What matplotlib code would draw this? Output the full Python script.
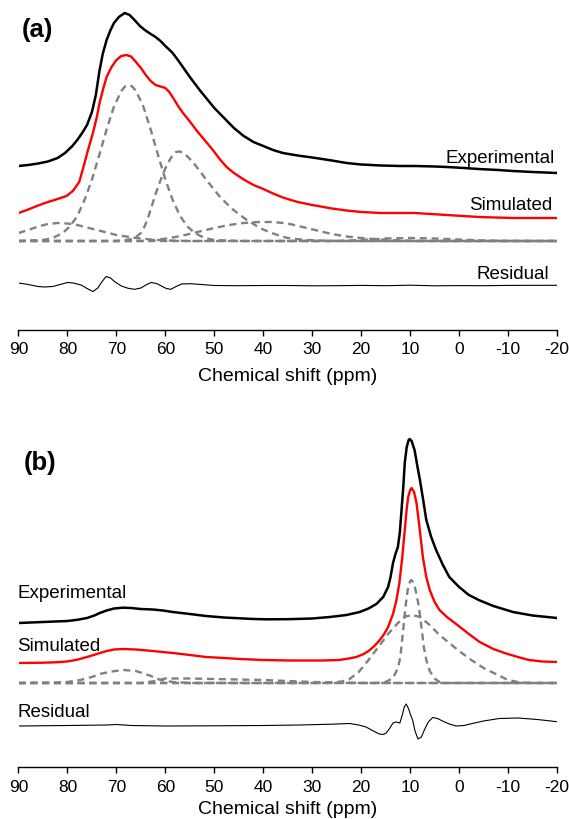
import matplotlib
matplotlib.use('Agg')
import matplotlib.pyplot as plt

plt.rcParams['font.family'] = ['Liberation Sans', 'DejaVu Sans']

# ---- panel (a) ----
a_exp_ppm = [90, 88, 86, 84, 82, 80.5, 79, 78, 77, 76, 75, 74.2, 73.5, 72.8, 72, 71.2, 70.5,
             69.5, 68.3, 67.3, 66.3, 65.2, 64.2, 63, 62, 61, 60, 58.5, 57, 55, 53, 51.5, 50,
             48, 46, 44, 42, 40, 38, 36, 33, 30, 26, 23, 20, 16, 12, 9, 5, 2.5, -1, -4, -8,
             -11, -15, -20]
a_exp = [164, 165, 166.5, 168.5, 172, 177, 184, 190, 197, 205, 218, 235, 258, 276, 290, 300,
         307, 313, 317, 315, 310, 304, 300, 296, 293, 289, 284, 277, 267, 253, 240, 231, 222,
         212, 202, 194, 188, 184, 180, 177, 174.5, 172.5, 169.5, 167, 165.5, 164.5, 164, 164,
         163.5, 163, 162, 161, 160, 159, 158, 157]

a_sim_ppm = [90, 88, 86, 84, 82, 80.2, 78.9, 77.6, 76.9, 75.8, 74.8, 74, 73.4, 72.6, 72, 71,
             70, 69, 68, 67, 66, 65, 64, 63, 62, 61, 60, 59.2, 58.4, 57.4, 56.4, 55, 53.7, 52,
             50.3, 49, 47.5, 46, 44, 42, 40, 38, 36, 33, 30, 26, 23, 20, 16, 9, 2.5, -4, -11,
             -20]
a_sim = [117, 120.5, 124.5, 128, 131, 134, 139, 148, 160, 180, 197, 213, 228, 243, 253, 263,
         270, 274, 275, 273.5, 268, 262, 255, 249, 245, 243.5, 242, 238, 232, 224, 217, 208.5,
         200, 190, 180, 171.5, 163, 157, 150.5, 145, 141, 136.5, 132.5, 128, 125, 121.5,
         119.5, 118, 117, 117, 115, 113, 112, 112]

a_c1_ppm = [90, 85, 83, 81, 79.5, 78, 76.5, 75, 73.5, 72, 70.5, 69, 68.25, 67.5, 66.75, 66,
            64.5, 63, 61.5, 60, 58.5, 57, 55.5, 54, 52, 50, 45, -20]
a_c1 = [89, 90, 92, 97, 103.5, 114, 130, 150.5, 175, 200.5, 223.5, 239, 243.5, 245, 243.5,
        239, 223.5, 200.5, 175, 150.5, 130, 114, 103.5, 97, 92, 90, 89, 89]

a_c2_ppm = [90, 70, 68, 67, 66, 65, 64.2, 63.5, 62.7, 62, 61.2, 60.5, 59.7, 59, 58.4, 57.8, 57,
            56, 55, 54, 52.8, 51.6, 50.3, 49, 47.5, 46.2, 45, 43.5, 42, 40.7, 39.3, 38, 36.5,
            35, 33, 31, 28, 25, -20]
a_c2 = [89, 89, 90, 91, 93, 97, 104, 113, 125, 136, 147, 156, 165, 171, 175.5, 178, 178.5,
        176, 171, 165.5, 158, 150, 142, 134, 126.5, 120.5, 116, 110.5, 106, 102, 99, 96.5, 94,
        92, 90.8, 90, 89.4, 89, 89]

a_c3_ppm = [90, 88, 86, 84, 82, 80, 78, 76, 74, 72, 70, 68, 66, 63, 60, 55, -20]
a_c3 = [97, 100, 103.5, 106, 107, 106.5, 105, 102.5, 100, 97.5, 95, 93.5, 92, 90.5, 89.5, 89, 89]

a_c4_ppm = [90, 65, 62, 59, 56, 53, 50, 47, 44, 41, 38, 35, 32, 29, 26, 23, 20, 16, 12, 8, -20]
a_c4 = [89, 89, 90, 92, 95, 98.5, 102, 105, 107, 108, 108, 106.5, 103, 99.5, 96, 93.5, 92,
        90.5, 89.5, 89, 89]

a_c5_ppm = [90, 25, 20, 15, 10, 5, 0, -5, -10, -20]
a_c5 = [89, 89, 90, 91.5, 92, 91.5, 90.5, 89.5, 89, 89]

a_res_ppm = [90, 88, 86, 84.7, 83, 81.5, 80, 78.8, 77.2, 76, 74.8, 73.8, 73, 72.1, 71.2, 70.4,
             69, 67.6, 66.3, 65, 63.8, 62.9, 61.8, 60.8, 59.8, 58.9, 57.8, 56.7, 55, 54, 50,
             45, 40, 35, 30, 25, 20, 15, 10, 5, 0, -5, -10, -20]
a_res = [47, 45.5, 43.5, 43, 43.5, 45.5, 47.5, 47, 45, 41.5, 38.5, 42, 48, 53.5, 52, 48.5,
         44, 41.7, 40.7, 42, 45.5, 47.5, 46.5, 44, 41.5, 40.7, 43.5, 46, 46.3, 46, 44.5,
         44.3, 44.5, 44.5, 44.2, 44.3, 44.6, 44.3, 44.8, 44.2, 44.4, 44.3, 44.6, 44.7]

# ---- panel (b) ----
b_exp_ppm = [90, 85, 80, 78, 76, 74.5, 73.4, 72, 70.5, 68.7, 67, 65, 62.6, 60.5, 58.5, 55,
             51.7, 48, 44.8, 42, 39.4, 35, 30, 26.4, 23, 20.3, 18.5, 16.9, 15.5, 14.5, 14,
             13.5, 13, 12.5, 12.1, 11.8, 11.4, 11.1, 10.7, 10.3, 10.1, 9.7, 9.3, 9.1, 8.6, 8,
             7.3, 6.7, 5.7, 4.7, 3.3, 2, 0, -2, -4, -7, -11, -15, -20]
b_exp = [144, 145, 146, 147.2, 149, 151.5, 154, 156.5, 158.5, 159.3, 159, 158, 157.5, 156.5,
         155, 153, 151, 149.5, 148.7, 148, 147.7, 147.8, 148.5, 150, 152, 155, 158.5, 163,
         170, 180, 190, 204, 213, 220, 235, 254, 280, 304, 320, 327, 328, 326, 320, 317,
         303, 287, 266, 247, 230, 217, 202, 190, 180, 172, 167, 161, 155, 151.5, 149]

b_sim_ppm = [90, 85, 82, 80, 78, 76, 74, 72, 70.5, 68.7, 66, 62.6, 58.5, 55, 51.7, 48, 44.8, 40,
             34.6, 28, 24.5, 22.5, 21, 19.5, 18.5, 17.3, 16.2, 15.3, 14.5, 13.5, 12.8, 12.2,
             11.6, 11.1, 10.7, 10.4, 10, 9.7, 9.2, 8.7, 8.1, 7.4, 6.7, 6, 5, 4, 2.5, 0.6, -2,
             -4.2, -7, -9.6, -12, -14.3, -17, -20]
b_sim = [104, 104.3, 104.8, 105.6, 107.3, 110, 113, 116, 117.5, 118, 117.5, 116, 114, 112, 110,
         109, 108, 107, 106.5, 106.5, 107, 108.5, 110, 113, 116, 121, 127, 133, 140, 153, 167,
         184, 210, 237, 258, 270, 277, 279, 275, 264, 240, 210, 190, 177, 165, 157, 150, 143,
         133, 125, 118, 113.5, 110, 107, 105.5, 105]

b_c1_ppm = [90, 82, 80, 77.4, 75, 73.4, 71, 68.5, 66, 63.2, 61, 58.5, 55, -20]
b_c1 = [84, 84.5, 85, 87, 90, 93, 95.5, 97, 96, 91.5, 87, 85, 84, 84]

b_c2_ppm = [90, 65, 62, 60, 55, 50, 45, 40, 35, 30, 25, 20, -20]
b_c2 = [84, 84, 86, 88.5, 88.5, 88, 87.5, 87, 86, 85, 84.5, 84, 84]

b_c3_ppm = [90, 30, 26, 24, 22.5, 20.5, 18.5, 16.5, 14.5, 12.5, 11, 9.5, 8, 6, 4, 2, 0,
            -2.5, -5, -7.5, -10, -12.5, -15, -20]
b_c3 = [84, 84, 84.5, 85.5, 87.5, 95, 107, 120, 133, 144, 150.5, 152, 150, 142, 132, 124, 116,
        107, 99, 93, 87, 84.5, 84, 84]

b_c4_ppm = [90, 17, 15, 13.5, 12.5, 12, 11.5, 11, 10.5, 10, 9.7, 9.2, 8.7, 8.2, 7.7, 7.2, 6.7,
            6, 5, 4, 3, -20]
b_c4 = [84, 84, 85, 89, 99, 110, 133, 158, 177, 186, 187, 183, 173, 160, 140, 120, 107,
        96, 88.5, 85, 84, 84]

b_res_ppm = [90, 80, 72, 70, 67, 60, 50, 40, 32.6, 26, 22.4, 20.5, 19, 17.5, 16.3, 15.5, 14.9,
             14.2, 13.5, 12.8, 12.1, 11.6, 11.2, 10.8, 10.3, 9.9, 9.5, 9, 8.4, 7.7, 7.1, 6.3,
             5.4, 4.4, 3.4, 2, 0.6, -1, -2.7, -5, -8.2, -12, -16, -20]
b_res = [41, 41.5, 42, 42.5, 41.5, 41, 41.2, 41.5, 42, 42.8, 43.5, 42, 40, 36, 33, 32.5, 34,
         38.5, 44, 45, 44, 52, 60, 63, 58, 52, 47, 36, 28, 30, 37, 45, 49.5, 48.5, 46, 43,
         41, 41.5, 43.5, 46, 48.5, 49, 47.5, 45.3]

ticks = [90, 80, 70, 60, 50, 40, 30, 20, 10, 0, -10, -20]
tick_labels = ['90', '80', '70', '60', '50', '40', '30', '20', '10', '0', '-10', '-20']

W, H = 569, 819
fig = plt.figure(figsize=(W / 100, H / 100), dpi=100)
ax_a = fig.add_axes([18.5 / W, 1 - 330 / H, 538.5 / W, 330 / H])
ax_b = fig.add_axes([18.5 / W, 1 - 767 / H, 538.5 / W, 367 / H])

dash = dict(color='#808080', lw=1.7, ls=(0, (3.0, 2.0)))

for c_ppm, c in [(a_c3_ppm, a_c3), (a_c4_ppm, a_c4), (a_c5_ppm, a_c5),
                 (a_c1_ppm, a_c1), (a_c2_ppm, a_c2)]:
    ax_a.plot(c_ppm, c, **dash)
ax_a.plot(a_exp_ppm, a_exp, color='black', lw=1.8)
ax_a.plot(a_sim_ppm, a_sim, color='#ff0000', lw=1.7)
ax_a.plot(a_res_ppm, a_res, color='black', lw=0.8)
ax_a.set_ylim(0, 330)
ax_a.text(-19.6, 167, 'Experimental', ha='right', va='baseline', fontsize=13.5)
ax_a.text(-19.0, 120, 'Simulated', ha='right', va='baseline', fontsize=13.5)
ax_a.text(-18.4, 51, 'Residual', ha='right', va='baseline', fontsize=13.5)

for c_ppm, c in [(b_c2_ppm, b_c2), (b_c1_ppm, b_c1), (b_c3_ppm, b_c3), (b_c4_ppm, b_c4)]:
    ax_b.plot(c_ppm, c, **dash)
ax_b.plot(b_exp_ppm, b_exp, color='black', lw=1.8)
ax_b.plot(b_sim_ppm, b_sim, color='#ff0000', lw=1.7)
ax_b.plot(b_res_ppm, b_res, color='black', lw=0.8)
ax_b.set_ylim(0, 367)
ax_b.text(90.3, 169, 'Experimental', ha='left', va='baseline', fontsize=13.5)
ax_b.text(90.3, 116, 'Simulated', ha='left', va='baseline', fontsize=13.5)
ax_b.text(90.3, 50, 'Residual', ha='left', va='baseline', fontsize=13.5)

for ax in (ax_a, ax_b):
    ax.set_xlim(90, -20)
    for s in ('top', 'left', 'right'):
        ax.spines[s].set_visible(False)
    ax.spines['bottom'].set_linewidth(1.0)
    ax.set_yticks([])
    ax.set_xticks(ticks)
    ax.set_xticklabels(tick_labels)
    ax.tick_params(axis='x', direction='out', length=4, width=1.0, labelsize=12.5, pad=5)
    ax.patch.set_alpha(0)

ax_a.set_xlabel('Chemical shift (ppm)', fontsize=14, labelpad=7.5)
# bottom label sits close to the figure edge
ax_b.set_xlabel('Chemical shift (ppm)', fontsize=14, labelpad=4.5)

fig.text(22 / W, 1 - 18 / H, '(a)', fontsize=18.5, fontweight='bold', va='top')
fig.text(24 / W, 1 - 451 / H, '(b)', fontsize=18.5, fontweight='bold', va='top')

fig.savefig('out.png', dpi=100)
